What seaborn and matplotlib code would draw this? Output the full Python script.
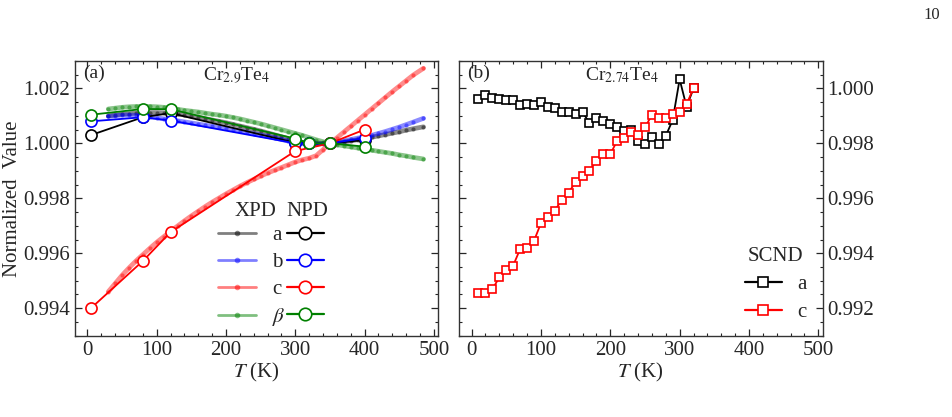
import numpy as np
import pandas as pd
import matplotlib
matplotlib.use('Agg')
import matplotlib.pyplot as plt
from matplotlib.lines import Line2D
from matplotlib.ticker import MultipleLocator, FormatStrFormatter
import seaborn as sns

sns.set_style('ticks')
plt.rcParams['font.family'] = ['Liberation Serif', 'DejaVu Serif']
plt.rcParams['mathtext.fontset'] = 'stix'

# ---- panel (a): Cr2.9Te4, XPD (dense) ----
t_xpd = [30, 40, 50, 60, 70, 80, 90, 100, 110, 120, 130, 140, 150, 160, 170, 180,
         190, 200, 210, 220, 230, 240, 250, 260, 270, 280, 290, 300, 310, 320, 330,
         340, 350, 360, 370, 380, 390, 400, 410, 420, 430, 440, 450, 460, 470, 485]
xpd_a = [1.00100, 1.00103, 1.00106, 1.00108, 1.00110, 1.00111, 1.00112, 1.00112, 1.00111,
         1.00110, 1.00107, 1.00103, 1.00099, 1.00095, 1.00090, 1.00085, 1.00080, 1.00075,
         1.00069, 1.00063, 1.00057, 1.00051, 1.00045, 1.00038, 1.00031, 1.00024, 1.00017,
         1.00010, 1.00004, 1.00002, 1.00001, 1.00000, 1.00000, 1.00002, 1.00005, 1.00009,
         1.00013, 1.00017, 1.00022, 1.00027, 1.00032, 1.00037, 1.00042, 1.00048, 1.00053,
         1.00060]
xpd_b = [1.00098, 1.00101, 1.00103, 1.00103, 1.00102, 1.00100, 1.00097, 1.00093, 1.00089,
         1.00086, 1.00082, 1.00078, 1.00074, 1.00070, 1.00066, 1.00062, 1.00059, 1.00055,
         1.00050, 1.00045, 1.00040, 1.00035, 1.00030, 1.00025, 1.00020, 1.00014, 1.00008,
         1.00003, 1.00000, 0.99998, 0.99998, 0.99999, 1.00000, 1.00004, 1.00009, 1.00014,
         1.00019, 1.00023, 1.00029, 1.00036, 1.00043, 1.00051, 1.00059, 1.00068, 1.00077,
         1.00091]
xpd_c = [0.99460, 0.99490, 0.99520, 0.99547, 0.99572, 0.99595, 0.99618, 0.99640, 0.99660,
         0.99680, 0.99699, 0.99718, 0.99736, 0.99753, 0.99770, 0.99786, 0.99801, 0.99816,
         0.99830, 0.99844, 0.99857, 0.99869, 0.99881, 0.99892, 0.99902, 0.99912, 0.99922,
         0.99932, 0.99940, 0.99946, 0.99955, 0.99977, 1.00000, 1.00020, 1.00041, 1.00062,
         1.00083, 1.00104, 1.00125, 1.00146, 1.00167, 1.00188, 1.00208, 1.00228, 1.00248,
         1.00273]
xpd_beta = [1.00125, 1.00128, 1.00131, 1.00133, 1.00134, 1.00135, 1.00134, 1.00133, 1.00131,
            1.00128, 1.00124, 1.00120, 1.00117, 1.00114, 1.00110, 1.00106, 1.00103, 1.00099,
            1.00094, 1.00089, 1.00083, 1.00077, 1.00071, 1.00064, 1.00057, 1.00050, 1.00043,
            1.00036, 1.00029, 1.00021, 1.00013, 1.00006, 1.00000, 0.99995, 0.99991, 0.99987,
            0.99983, 0.99979, 0.99975, 0.99971, 0.99967, 0.99963, 0.99958, 0.99954, 0.99949,
            0.99943]

# ---- panel (a): NPD ----
t_npd = [5, 80, 120, 300, 320, 350, 400]
npd_a = [1.00030, 1.00095, 1.00110, 1.00002, 1.00000, 1.00000, 1.00012]
npd_b = [1.00080, 1.00095, 1.00083, 1.00000, 1.00000, 1.00000, 1.00019]
npd_beta = [1.00104, 1.00125, 1.00124, 1.00017, 1.00000, 1.00000, 0.99988]
t_npd_c = [5, 80, 120, 300, 350, 400]
npd_c = [0.99400, 0.99572, 0.99677, 0.99972, 1.00000, 1.00050]

# ---- panel (b): Cr2.74Te4, SCND ----
t_scnd = [10, 20, 30, 40, 50, 60, 70, 80, 90, 100, 110, 120, 130, 140, 150, 160,
          170, 180, 190, 200, 210, 220, 230, 240, 250, 260, 270, 280, 290, 300, 310, 320]
scnd_a = [0.99960, 0.99976, 0.99966, 0.99960, 0.99959, 0.99959, 0.99938, 0.99942,
          0.99939, 0.99952, 0.99931, 0.99928, 0.99913, 0.99914, 0.99908, 0.99914,
          0.99874, 0.99892, 0.99881, 0.99869, 0.99861, 0.99846, 0.99848, 0.99810,
          0.99798, 0.99822, 0.99799, 0.99827, 0.99885, 1.00033, 0.99933, 1.00000]
scnd_c = [0.99255, 0.99257, 0.99269, 0.99312, 0.99339, 0.99355, 0.99415, 0.99418,
          0.99445, 0.99509, 0.99533, 0.99555, 0.99594, 0.99621, 0.99659, 0.99681,
          0.99701, 0.99736, 0.99760, 0.99760, 0.99810, 0.99818, 0.99841, 0.99830,
          0.99858, 0.99903, 0.99892, 0.99892, 0.99907, 0.99915, 0.99943, 1.00000]

labels = ['a', 'b', 'c', r'$\beta$']
colors = ['black', 'blue', 'red', 'green']
fs = 15

fig = plt.figure(figsize=(9.52, 4.17), dpi=100)
ax1 = fig.add_axes([0.0788, 0.195, 0.3813, 0.659])
ax2 = fig.add_axes([0.4822, 0.195, 0.3818, 0.659])

xpd_sets = [xpd_a, xpd_b, xpd_c, xpd_beta]
npd_sets = [(t_npd, npd_a), (t_npd, npd_b), (t_npd_c, npd_c), (t_npd, npd_beta)]

for vals, col in zip(xpd_sets, colors):
    sns.lineplot(x=t_xpd, y=vals, ax=ax1, color=col, lw=3.4, alpha=0.45,
                 marker='o', markersize=3, markeredgewidth=0, sort=False, estimator=None)
for (tt, vals), col in zip(npd_sets, colors):
    sns.lineplot(x=tt, y=vals, ax=ax1, color=col, lw=1.3, marker='o', markersize=8,
                 markerfacecolor='white', markeredgecolor=col, markeredgewidth=1.2,
                 sort=False, estimator=None, zorder=3)

for vals, col in zip([scnd_a, scnd_c], ['black', 'red']):
    sns.lineplot(x=t_scnd, y=vals, ax=ax2, color=col, lw=1.3, marker='s', markersize=5.5,
                 markerfacecolor='white', markeredgecolor=col, markeredgewidth=1.2,
                 sort=False, estimator=None)

for ax in (ax1, ax2):
    ax.set_xlim(-18, 506)
    ax.xaxis.set_major_locator(MultipleLocator(100))
    ax.xaxis.set_minor_locator(MultipleLocator(20))
    ax.yaxis.set_major_locator(MultipleLocator(0.002))
    ax.yaxis.set_minor_locator(MultipleLocator(0.0005))
    ax.yaxis.set_major_formatter(FormatStrFormatter('%.3f'))
    ax.tick_params(which='both', direction='in', top=True, right=True, labelsize=fs)
    ax.tick_params(which='major', length=5, width=0.9)
    ax.tick_params(which='minor', length=2.5, width=0.8)
    ax.set_xlabel(r'$T$ (K)', fontsize=fs, labelpad=1)
    for sp in ax.spines.values():
        sp.set_linewidth(1.0)
        sp.set_color('#333333')

ax1.set_ylim(0.993, 1.003)
ax1.set_ylabel('Normalized  Value', fontsize=fs, labelpad=1)

ax2.set_ylim(0.991, 1.001)
ax2.tick_params(axis='y', labelleft=False, labelright=True)
ax2.set_ylabel('')

ax1.text(0.022, 0.985, '(a)', transform=ax1.transAxes, fontsize=fs - 1, va='top', ha='left')
ax1.text(0.446, 0.985, r'Cr$_{2.9}$Te$_4$', transform=ax1.transAxes, fontsize=fs - 1,
         va='top', ha='center')
ax2.text(0.022, 0.985, '(b)', transform=ax2.transAxes, fontsize=fs - 1, va='top', ha='left')
ax2.text(0.447, 0.985, r'Cr$_{2.74}$Te$_4$', transform=ax2.transAxes, fontsize=fs - 1,
         va='top', ha='center')

# two-column legend in panel (a)
xpd_h = [Line2D([], [], color=c, lw=2, alpha=0.5, marker='o', markersize=4,
                markeredgewidth=0) for c in colors]
npd_h = [Line2D([], [], color=c, lw=1.6, marker='o', markersize=9,
                markerfacecolor='white', markeredgecolor=c, markeredgewidth=1.2)
         for c in colors]
leg1 = ax1.legend(xpd_h, labels, loc='upper left', bbox_to_anchor=(0.394, 0.40),
                  frameon=False, handlelength=1.8, handletextpad=0.8, labelspacing=0.35,
                  borderpad=0, borderaxespad=0, fontsize=fs)
ax1.add_artist(leg1)
ax1.legend(npd_h, [''] * 4, loc='upper left', bbox_to_anchor=(0.583, 0.40),
           frameon=False, handlelength=1.8, handletextpad=0, labelspacing=0.35,
           borderpad=0, borderaxespad=0, fontsize=fs)
ax1.text(0.496, 0.452, 'XPD', transform=ax1.transAxes, fontsize=fs, ha='center', va='center')
ax1.text(0.639, 0.452, 'NPD', transform=ax1.transAxes, fontsize=fs, ha='center', va='center')

# SCND legend in panel (b)
scnd_h = [Line2D([], [], color=c, lw=1.6, marker='s', markersize=6.5,
                 markerfacecolor='white', markeredgecolor=c, markeredgewidth=1.2)
          for c in ['black', 'red']]
ax2.legend(scnd_h, ['a', 'c'], title='SCND', loc='lower right',
           bbox_to_anchor=(0.955, 0.05), frameon=False, handlelength=1.8,
           handletextpad=0.7, labelspacing=0.4, borderpad=0, borderaxespad=0,
           fontsize=fs, title_fontsize=fs)

fig.text(0.988, 0.965, '10', fontsize=12, ha='right', va='center')

fig.savefig('out.png', dpi=100)
